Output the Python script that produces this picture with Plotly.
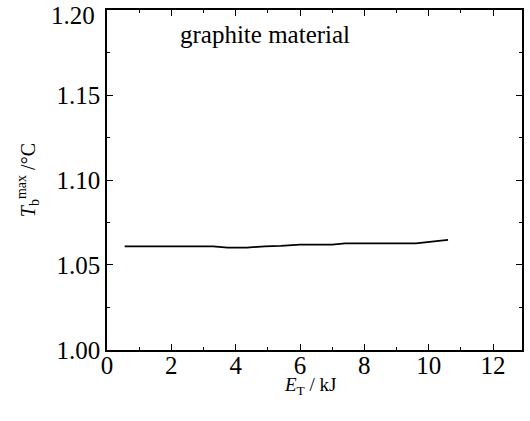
import plotly.graph_objects as go

energy_kj = [0.55, 3.3, 3.75, 4.35, 4.9, 5.4, 6.0, 7.0, 7.4, 9.6, 10.6]
t_max = [1.061, 1.061, 1.0602, 1.0602, 1.061, 1.0612, 1.062, 1.062, 1.0627, 1.0627, 1.0648]

x_ticks = [0, 2, 4, 6, 8, 10, 12]
y_ticks = [1.00, 1.05, 1.10, 1.15, 1.20]
y_tick_labels = ["1.00", "1.05", "1.10", "1.15", "1.20"]

FONT = "Liberation Serif"

fig = go.Figure()
fig.add_trace(go.Scatter(x=energy_kj, y=t_max, mode="lines",
                         line=dict(color="black", width=1.7), showlegend=False))

axis_common = dict(showline=True, linecolor="black", linewidth=1.5, mirror="allticks",
                   ticks="inside", ticklen=6, tickwidth=1.2, tickcolor="black",
                   showgrid=False, zeroline=False, automargin=False,
                   ticklabeloverflow="allow",
                   tickfont=dict(family=FONT, size=25, color="black"))

fig.update_xaxes(range=[0, 12.9], tickvals=x_ticks, ticklabelstandoff=-8,
                 minor=dict(dtick=1, ticks="inside", ticklen=3, tickwidth=1.2, tickcolor="black"),
                 **axis_common)
# top label is drawn as an annotation nudged down so it stays inside the page
fig.update_yaxes(range=[0.99999, 1.20001], tickvals=y_ticks,
                 ticktext=y_tick_labels[:-1] + [""],
                 minor=dict(dtick=0.025, tick0=1.0, ticks="inside", ticklen=3, tickwidth=1.2, tickcolor="black"),
                 **axis_common)
fig.add_annotation(text=y_tick_labels[-1], xref="paper", yref="y", x=0, y=y_ticks[-1],
                   xanchor="right", yanchor="top", xshift=-10, yshift=10, showarrow=False,
                   font=dict(family=FONT, size=25, color="black"))

fig.add_annotation(text="graphite material", xref="x", yref="y", x=2.2, y=1.1855,
                   xanchor="left", yanchor="middle", showarrow=False,
                   font=dict(family=FONT, size=25, color="black"))

fig.add_annotation(text="<i>E</i><sub>T</sub> / kJ", xref="paper", yref="paper",
                   x=0.49, y=-0.107, xanchor="center", yanchor="middle", showarrow=False,
                   font=dict(family=FONT, size=19, color="black"))
fig.add_annotation(text="<i>T</i><sub>b</sub><sup>max</sup> /°C", xref="paper", yref="paper",
                   x=-0.19, y=0.5, xanchor="center", yanchor="middle", showarrow=False,
                   textangle=-90, font=dict(family=FONT, size=20, color="black"))

fig.update_layout(width=530, height=421, margin=dict(l=107, r=8, t=10, b=71),
                  plot_bgcolor="white", paper_bgcolor="white")

fig.write_html("out.html", config={"displayModeBar": False},
               post_script="document.body.style.margin='0';")
